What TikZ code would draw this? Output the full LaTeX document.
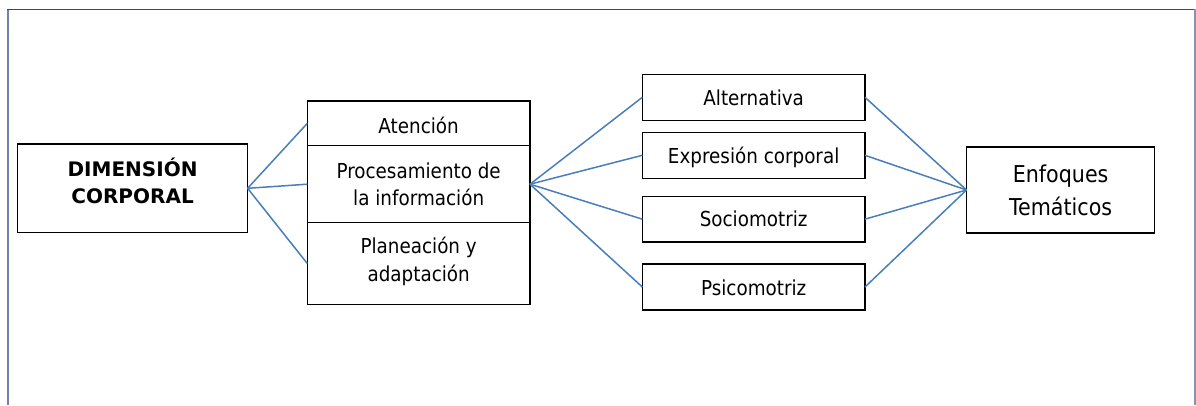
\documentclass[tikz,border=0pt]{standalone}
\usepackage{fontspec}
\setmainfont{DejaVu Sans}[FakeStretch=0.89]
\newfontfamily\boldfam{DejaVu Sans}[FakeStretch=1.0]
\newcommand\boxtext[2]{\raisebox{#1}[0pt][0pt]{\begin{tabular}[t]{@{}c@{}}#2\end{tabular}}}
\definecolor{linkblue}{HTML}{4A7EBB}
\definecolor{frameL}{HTML}{6E82AD}
\definecolor{frameT}{HTML}{34467A}
\definecolor{frameR}{HTML}{8494B8}
\begin{document}
\begin{tikzpicture}[x=1pt,y=-1pt,
  box/.style={draw=black, line width=1.4pt, rectangle, inner sep=0pt, outer sep=0pt, fill=white},
  link/.style={draw=linkblue, line width=1.5pt},
  reg/.style={font=\fontsize{20.6}{27}\selectfont},
  colbox/.style={box, reg, minimum width=222.7pt},
]
\useasboundingbox (0,0) rectangle (1196,405);
% frame
\draw[draw=frameL, line width=1.6pt] (7.7,405) -- (7.7,9.3);
\draw[draw=frameT, line width=1.4pt] (7,9.3) -- (1195.5,9.3);
\draw[draw=frameR, line width=2pt] (1194.7,9.3) -- (1194.7,405);
% left box
\node[box, minimum width=230pt, minimum height=88.7pt,
      font=\boldfam\bfseries\fontsize{20}{27.3}\selectfont] (dim) at (132.6,188.3)
      {\boxtext{12.3pt}{DIMENSIÓN\\CORPORAL}};
% middle stack
\node[colbox, minimum height=44.7pt] (ate) at (418.65,123.35) {\boxtext{-10pt}{Atención}};
\node[colbox, minimum height=77pt, font=\fontsize{20.6}{26.7}\selectfont] (pro) at (418.65,184.2)
      {\boxtext{5.9pt}{Procesamiento de\\la información}};
\node[colbox, minimum height=81.6pt, font=\fontsize{20.6}{28.4}\selectfont] (pla) at (418.65,263.5)
      {\boxtext{10.2pt}{Planeación y\\adaptación}};
% right column
\node[colbox, minimum height=46pt] (alt) at (753.65,97.3) {\boxtext{-8.4pt}{Alternativa}};
\node[colbox, minimum height=46pt] (exp) at (753.65,155.3) {\boxtext{-8pt}{Expresión corporal}};
\node[colbox, minimum height=45.7pt] (soc) at (753.65,219.15) {\boxtext{-7.7pt}{Sociomotriz}};
\node[colbox, minimum height=46pt] (psi) at (753.65,287) {\boxtext{-8pt}{Psicomotriz}};
% final box
\node[box, minimum width=188.2pt, minimum height=86pt, font=\fontsize{23.2}{32.3}\selectfont] (enf) at (1060.6,190)
      {\boxtext{7.3pt}{Enfoques\\Temáticos}};
% connectors
\draw[link] (dim.east) -- (ate.west);
\draw[link] (dim.east) -- (pro.west);
\draw[link] (dim.east) -- (pla.west);
\draw[link] (pro.east) -- (alt.west);
\draw[link] (pro.east) -- (exp.west);
\draw[link] (pro.east) -- (soc.west);
\draw[link] (pro.east) -- (psi.west);
\draw[link] (alt.east) -- (enf.west);
\draw[link] (exp.east) -- (enf.west);
\draw[link] (soc.east) -- (enf.west);
\draw[link] (psi.east) -- (enf.west);
\end{tikzpicture}
\end{document}
